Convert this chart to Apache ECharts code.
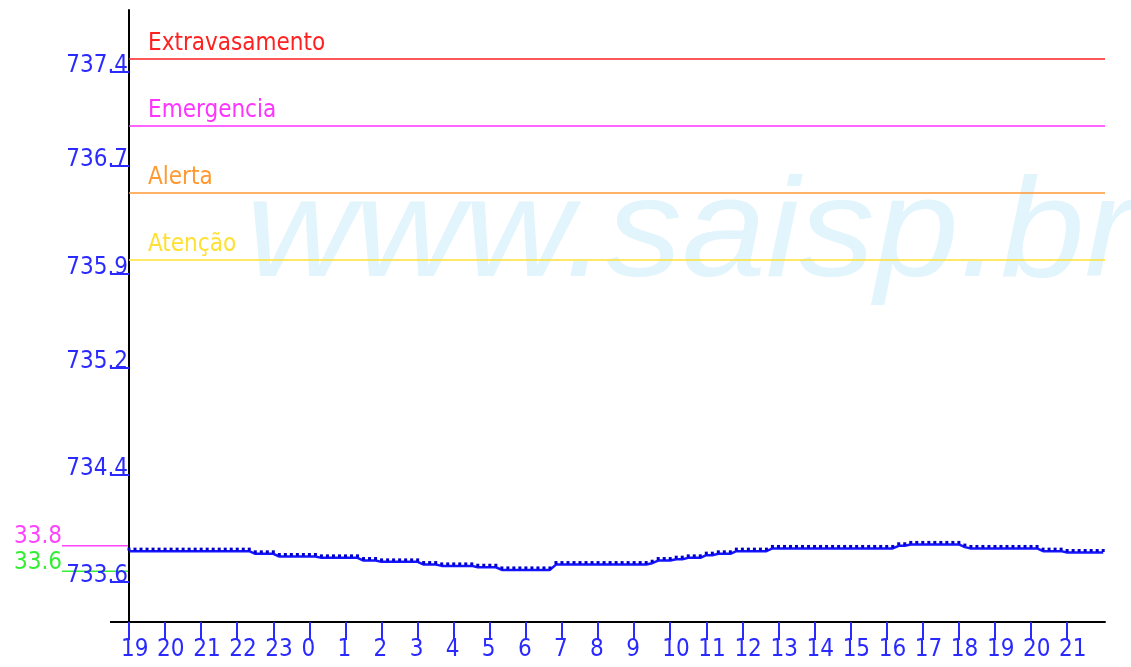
<!DOCTYPE html>
<html>
<head>
<meta charset="utf-8">
<script src="https://cdn.jsdelivr.net/npm/echarts@6/dist/echarts.min.js"></script>
<style>
html,body{margin:0;padding:0;background:#fff;}
#chart{width:1131px;height:667px;}
</style>
</head>
<body>
<div id="chart"></div>
<script>
// horas do eixo x (19h ate 21h do dia seguinte)
var hourLabels = [19,20,21,22,23,0,1,2,3,4,5,6,7,8,9,10,11,12,13,14,15,16,17,18,19,20,21];
var yTicks = [733.6, 734.4, 735.2, 735.9, 736.7, 737.4];

var thresholdNames = ['Extravasamento', 'Emergencia', 'Alerta', 'Atenção'];
var thresholdValues = [737.5, 737.0, 736.5, 736.0];
var thresholdColors = ['#ff2020', '#ff33ff', '#ff9933', '#ffe033'];

var sideRefLabels = ['33.8', '33.6'];
var sideRefValues = [733.87, 733.68];
var sideRefColors = ['#ff44ff', '#33ee33'];

// nivel a cada 10 minutos
var stepMinutes = 10;
var levels = [
	733.83,733.83,733.83,733.83,733.83,733.83,
	733.83,733.83,733.83,733.83,733.83,733.83,
	733.83,733.83,733.83,733.83,733.83,733.83,
	733.83,733.83,733.83,733.81,733.81,733.81,
	733.81,733.79,733.79,733.79,733.79,733.79,
	733.79,733.79,733.78,733.78,733.78,733.78,
	733.78,733.78,733.78,733.76,733.76,733.76,
	733.75,733.75,733.75,733.75,733.75,733.75,
	733.75,733.73,733.73,733.73,733.72,733.72,
	733.72,733.72,733.72,733.72,733.71,733.71,
	733.71,733.71,733.69,733.69,733.69,733.69,
	733.69,733.69,733.69,733.69,733.69,733.73,
	733.73,733.73,733.73,733.73,733.73,733.73,
	733.73,733.73,733.73,733.73,733.73,733.73,
	733.73,733.73,733.73,733.74,733.76,733.76,
	733.76,733.77,733.77,733.78,733.78,733.78,
	733.80,733.80,733.81,733.81,733.81,733.83,
	733.83,733.83,733.83,733.83,733.83,733.85,
	733.85,733.85,733.85,733.85,733.85,733.85,
	733.85,733.85,733.85,733.85,733.85,733.85,
	733.85,733.85,733.85,733.85,733.85,733.85,
	733.85,733.85,733.87,733.87,733.88,733.88,
	733.88,733.88,733.88,733.88,733.88,733.88,
	733.88,733.86,733.85,733.85,733.85,733.85,
	733.85,733.85,733.85,733.85,733.85,733.85,
	733.85,733.85,733.83,733.83,733.83,733.83,
	733.82,733.82,733.82,733.82,733.82,733.82,
	733.82
];

var font = 'DejaVu Sans Condensed';
var blue = '#2a2aff';

var seriesData = levels.map(function(v, i){
	return [i * stepMinutes / 60, v];
});
var hourTicks = hourLabels.map(function(h, i){ return i; });

var myChart = echarts.init(document.getElementById('chart'));
var option = {
	animation: false,
	backgroundColor: '#fff',
	grid: {
		left: 129,
		right: 26,
		top: 10,
		bottom: 45,
		outerBoundsMode: 'none'
	},
	xAxis: {
		type: 'value',
		min: 0,
		max: 27.05,
		splitLine: {show: false},
		axisLine: {lineStyle: {color: '#000', width: 2}},
		axisTick: {
			customValues: hourTicks,
			length: 18,
			lineStyle: {color: blue, width: 2}
		},
		axisLabel: {
			customValues: hourTicks,
			margin: 18,
			align: 'left',
			padding: [0, 0, 0, -8],
			color: blue,
			fontFamily: font,
			fontSize: 24,
			lineHeight: 20,
			formatter: function(v){ return String(hourLabels[Math.round(v)]); }
		}
	},
	yAxis: {
		type: 'value',
		min: 733.302,
		max: 737.862,
		splitLine: {show: false},
		axisLine: {lineStyle: {color: '#000', width: 2}},
		axisTick: {
			customValues: yTicks,
			length: 19,
			lineStyle: {color: blue, width: 2}
		},
		axisLabel: {
			customValues: yTicks,
			margin: 1,
			verticalAlign: 'bottom',
			color: blue,
			fontFamily: font,
			fontSize: 24,
			lineHeight: 12,
			formatter: function(v){ return v.toFixed(1); }
		}
	},
	series: [{
		type: 'line',
		data: seriesData,
		symbol: 'rect',
		symbolSize: 3,
		symbolOffset: [0, -2],
		showAllSymbol: true,
		lineStyle: {color: '#1414ff', width: 2.5},
		itemStyle: {color: '#0000cc'},
		z: 5,
		markLine: {
			silent: true,
			symbol: 'none',
			data: thresholdValues.map(function(v, i){
				return {
					yAxis: v,
					lineStyle: {color: thresholdColors[i], width: 1.5, type: 'solid'},
					label: {
						show: true,
						formatter: thresholdNames[i],
						position: 'insideStartTop',
						distance: [19, 3],
						color: thresholdColors[i],
						fontFamily: font,
						fontSize: 24
					}
				};
			})
		}
	}]
};
myChart.setOption(option);

// marca d'agua e referencias a esquerda do eixo
var axisX = myChart.convertToPixel({xAxisIndex: 0}, 0);
var baseY = myChart.convertToPixel({yAxisIndex: 0}, 733.302);
var graphics = [{
	type: 'text',
	z: -10,
	x: 246,
	y: 237,
	scaleX: 1.07,
	style: {
		text: 'www.saisp.br',
		x: 0,
		y: 0,
		verticalAlign: 'middle',
		font: 'italic 141px "Liberation Sans"',
		fill: '#e2f4fc'
	}
}, {
	type: 'line',
	shape: {x1: axisX - 19, y1: baseY, x2: axisX, y2: baseY},
	style: {stroke: '#000', lineWidth: 2}
}];
sideRefValues.forEach(function(v, i){
	var y = myChart.convertToPixel({yAxisIndex: 0}, v);
	graphics.push({
		type: 'line',
		shape: {x1: axisX - 67, y1: y, x2: axisX, y2: y},
		style: {stroke: sideRefColors[i], lineWidth: 1.5}
	});
	graphics.push({
		type: 'text',
		style: {
			text: sideRefLabels[i],
			x: axisX - 67,
			y: y + 3,
			align: 'right',
			verticalAlign: 'bottom',
			font: '24px "DejaVu Sans Condensed"',
			fill: sideRefColors[i]
		}
	});
});
myChart.setOption({graphic: graphics});
</script>
</body>
</html>
